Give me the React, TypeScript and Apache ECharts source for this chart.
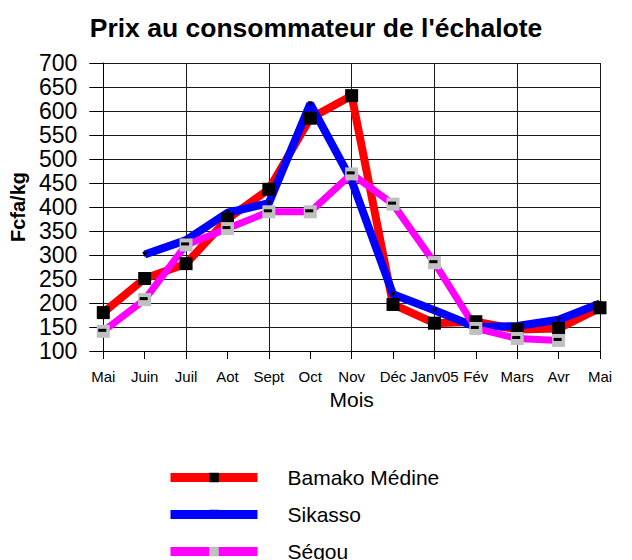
import React, { useEffect, useRef } from "react";
import * as echarts from "echarts";

const titleText = "Prix au consommateur de l'échalote";
const months = ["Mai", "Juin", "Juil", "Aot", "Sept", "Oct", "Nov", "Déc", "Janv05", "Fév", "Mars", "Avr", "Mai"];
const seriesNames = ["Bamako Médine", "Sikasso", "Ségou"];
const bamako = [180, 251, 282, 375, 437, 585, 632, 197, 158, 161, 145, 147, 190];
const sikasso = [null, 301, 331, 388, 408, 615, 455, 218, 185, 150, 152, 165, 199];
const segou = [141, 207, 321, 355, 390, 390, 469, 406, 284, 147, 126, 122, null];
const yMin = 100;
const yMax = 700;
const yStep = 50;

const FONT = "Liberation Sans, Arial, sans-serif";

export default function App() {
  const ref = useRef<HTMLDivElement>(null);
  useEffect(() => {
    if (!ref.current) return;
    const chart = echarts.init(ref.current, undefined, { renderer: "svg" });
    chart.setOption({
      animation: false,
      backgroundColor: "#ffffff",
      textStyle: { fontFamily: FONT },
      title: {
        text: titleText,
        left: "center",
        top: 9,
        textStyle: { fontFamily: FONT, fontWeight: "bold", fontSize: 26.5, color: "#000" },
      },
      grid: { left: 103, right: 32, top: 63, bottom: 209, containLabel: false },
      legend: {
        orient: "vertical",
        left: 166,
        top: 467,
        height: 140,
        padding: 0,
        itemWidth: 87,
        itemHeight: 12,
        itemGap: 16,
        data: [
          { name: seriesNames[0] },
          { name: seriesNames[1], itemStyle: { color: "#0000ff", borderWidth: 0 } },
          { name: seriesNames[2] },
        ],
        lineStyle: { width: 9 },
        textStyle: { fontFamily: FONT, fontSize: 21, color: "#000", padding: [0, 0, 0, 25] },
      },
      xAxis: {
        type: "category",
        data: months,
        boundaryGap: false,
        name: "Mois",
        nameLocation: "middle",
        nameGap: 30,
        nameTextStyle: { fontFamily: FONT, fontSize: 21, color: "#000" },
        axisLine: { lineStyle: { color: "#000", width: 1 } },
        axisTick: { show: true, length: 8, interval: 0, lineStyle: { color: "#000" } },
        axisLabel: { interval: 0, hideOverlap: false, margin: 18, fontFamily: FONT, fontSize: 15, color: "#000" },
        splitLine: { show: true, interval: 1, lineStyle: { color: "#1a1a1a", width: 1 } },
      },
      yAxis: {
        type: "value",
        min: yMin,
        max: yMax,
        interval: yStep,
        name: "Fcfa/kg",
        nameLocation: "middle",
        nameGap: 72,
        nameTextStyle: { fontFamily: FONT, fontSize: 20, fontWeight: "bold", color: "#000" },
        axisLine: { show: true, lineStyle: { color: "#000", width: 1 } },
        axisTick: { show: true, length: 14, lineStyle: { color: "#000" } },
        axisLabel: { margin: 26, fontFamily: FONT, fontSize: 23, lineHeight: 22, color: "#000" },
        splitLine: { show: true, lineStyle: { color: "#1a1a1a", width: 1 } },
      },
      series: [
        {
          name: seriesNames[0],
          type: "line",
          data: bamako,
          symbol: "rect",
          symbolSize: 13,
          itemStyle: { color: "#000000" },
          lineStyle: { color: "#ff0000", width: 8 },
        },
        {
          name: seriesNames[1],
          type: "line",
          data: sikasso,
          symbol: "triangle",
          symbolSize: 5,
          symbolRotate: 180,
          itemStyle: { color: "#000000" },
          lineStyle: { color: "#0000ff", width: 8 },
        },
        {
          name: seriesNames[2],
          type: "line",
          data: segou,
          symbol: "rect",
          symbolSize: 13,
          itemStyle: { color: "#c0c0c0" },
          lineStyle: { color: "#ff00ff", width: 7 },
        },
        {
          name: "SégouMark",
          type: "line",
          data: segou,
          symbol: "rect",
          symbolSize: [8, 3],
          symbolOffset: [-1, -1],
          itemStyle: { color: "#000000" },
          lineStyle: { width: 0, opacity: 0 },
          silent: true,
        },
      ],
    });
    return () => chart.dispose();
  }, []);
  return <div ref={ref} style={{ width: 632, height: 560, position: "absolute", left: 0, top: 0 }} />;
}
